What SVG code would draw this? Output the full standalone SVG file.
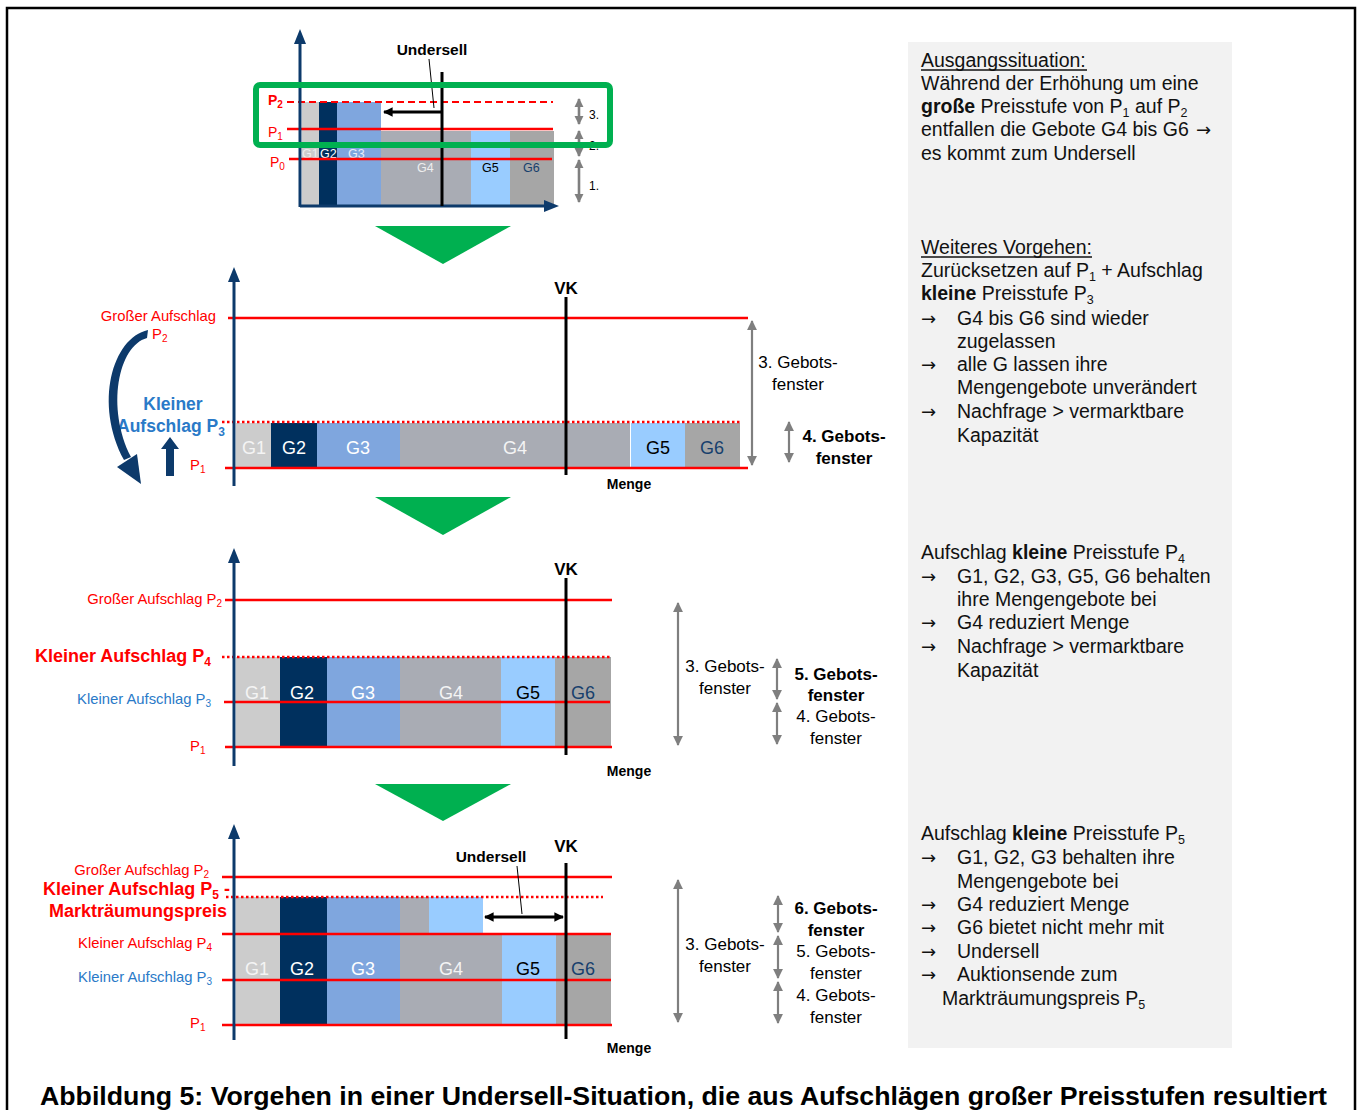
<svg xmlns="http://www.w3.org/2000/svg" width="1365" height="1110" viewBox="0 0 1365 1110">
<style>
text{font-family:"Liberation Sans",Arial,sans-serif}
.b{font-weight:bold}
.red{fill:#ff0000}
.blue{fill:#2a7ac8}
.rl{stroke:#ff0000;stroke-width:2.5;fill:none}
.dot{stroke:#ff0000;stroke-width:2.5;stroke-dasharray:2.5,2.5;fill:none}
.ax{stroke:#0d3a6b;stroke-width:3;fill:none}
.axh{fill:#0d3a6b}
.vk{stroke:#000;stroke-width:3}
.ga{stroke:#7f7f7f;stroke-width:2.2;fill:none;marker-start:url(#gh);marker-end:url(#gh)}
.ga2{stroke:#7f7f7f;stroke-width:2.6;fill:none;marker-start:url(#gh2);marker-end:url(#gh2)}
.g1{fill:#cccccc}.g2{fill:#00305e}.g3{fill:#7fa6de}.g4{fill:#a9acb4}.g5{fill:#99ccff}.g6{fill:#a6a6a6}
.gl{font-size:18px}
.tw{fill:#ffffff}.tk{fill:#000}.tn{fill:#17406d}
.side{font-size:17px;fill:#000}
.bx{font-size:19.5px;fill:#111}
.ar{font-family:"DejaVu Sans",sans-serif;font-size:18px;fill:#111}
.sl{font-size:14.8px}
.kl{font-size:18px;font-weight:bold}
.tri{fill:#00b050}
</style>
<defs>
<marker id="gh" viewBox="0 0 10 10" refX="9" refY="5" markerWidth="4.5" markerHeight="4.5" orient="auto-start-reverse" markerUnits="strokeWidth">
<path d="M0,0 L10,5 L0,10 z" fill="#7f7f7f"/>
</marker>
<marker id="gh2" viewBox="0 0 10 10" refX="9" refY="5" markerWidth="3.6" markerHeight="3.6" orient="auto-start-reverse" markerUnits="strokeWidth">
<path d="M0,0 L10,5 L0,10 z" fill="#7f7f7f"/>
</marker>
<marker id="kh" viewBox="0 0 10 10" refX="9" refY="5" markerWidth="3.2" markerHeight="3.2" orient="auto-start-reverse" markerUnits="strokeWidth">
<path d="M0,0 L10,5 L0,10 z" fill="#000"/>
</marker>
</defs>

<rect x="7" y="8" width="1348" height="1130" fill="none" stroke="#000" stroke-width="2.5"/>

<!-- explanation box -->
<g id="textbox">
<rect x="908" y="42" width="324" height="1006" fill="#f2f2f2"/>
<text class="bx" x="921" y="67">Ausgangssituation:</text>
<line x1="921" y1="70" x2="1087" y2="70" stroke="#111" stroke-width="1.3"/>
<text class="bx" x="921" y="90">Während der Erhöhung um eine</text>
<text class="bx" x="921" y="113"><tspan class="b">große</tspan> Preisstufe von P<tspan font-size="12.5" dy="4">1</tspan><tspan dy="-4"> auf P</tspan><tspan font-size="12.5" dy="4">2</tspan></text>
<text class="bx" x="921" y="136">entfallen die Gebote G4 bis G6</text>
<text class="ar" x="1196" y="136">→</text>
<text class="bx" x="921" y="160">es kommt zum Undersell</text>
<text class="bx" x="921" y="254">Weiteres Vorgehen:</text>
<line x1="921" y1="257" x2="1092" y2="257" stroke="#111" stroke-width="1.3"/>
<text class="bx" x="921" y="277">Zurücksetzen auf P<tspan font-size="12.5" dy="4">1</tspan><tspan dy="-4"> + Aufschlag</tspan></text>
<text class="bx" x="921" y="300"><tspan class="b">kleine</tspan> Preisstufe P<tspan font-size="12.5" dy="4">3</tspan></text>
<text class="ar" x="921" y="325">→</text><text class="bx" x="957" y="325">G4 bis G6 sind wieder</text>
<text class="bx" x="957" y="348">zugelassen</text>
<text class="ar" x="921" y="371">→</text><text class="bx" x="957" y="371">alle G lassen ihre</text>
<text class="bx" x="957" y="394">Mengengebote unverändert</text>
<text class="ar" x="921" y="418">→</text><text class="bx" x="957" y="418">Nachfrage &gt; vermarktbare</text>
<text class="bx" x="957" y="442">Kapazität</text>

<text class="bx" x="921" y="559">Aufschlag <tspan class="b">kleine</tspan> Preisstufe P<tspan font-size="12.5" dy="4">4</tspan></text>
<text class="ar" x="921" y="583">→</text><text class="bx" x="957" y="583">G1, G2, G3, G5, G6 behalten</text>
<text class="bx" x="957" y="606">ihre Mengengebote bei</text>
<text class="ar" x="921" y="629">→</text><text class="bx" x="957" y="629">G4 reduziert Menge</text>
<text class="ar" x="921" y="653">→</text><text class="bx" x="957" y="653">Nachfrage &gt; vermarktbare</text>
<text class="bx" x="957" y="677">Kapazität</text>

<text class="bx" x="921" y="840">Aufschlag <tspan class="b">kleine</tspan> Preisstufe P<tspan font-size="12.5" dy="4">5</tspan></text>
<text class="ar" x="921" y="864">→</text><text class="bx" x="957" y="864">G1, G2, G3 behalten ihre</text>
<text class="bx" x="957" y="888">Mengengebote bei</text>
<text class="ar" x="921" y="911">→</text><text class="bx" x="957" y="911">G4 reduziert Menge</text>
<text class="ar" x="921" y="934">→</text><text class="bx" x="957" y="934">G6 bietet nicht mehr mit</text>
<text class="ar" x="921" y="958">→</text><text class="bx" x="957" y="958">Undersell</text>
<text class="ar" x="921" y="981">→</text><text class="bx" x="957" y="981">Auktionsende zum</text>
<text class="bx" x="942" y="1005">Markträumungspreis P<tspan font-size="12.5" dy="4">5</tspan></text>
</g>

<!-- Panel 1: initial situation -->
<g id="panel1">
<rect class="g1" x="302" y="102" width="17" height="104"/>
<rect class="g2" x="319" y="102" width="18" height="104"/>
<rect class="g3" x="337" y="102" width="44" height="104"/>
<rect class="g4" x="381" y="131" width="90" height="75"/>
<rect class="g5" x="471" y="131" width="39" height="75"/>
<rect class="g6" x="510" y="131" width="44" height="75"/>
<text x="302" y="158" font-size="12.5" fill="#eeeeee">G1</text>
<text x="320" y="158" font-size="12.5" class="tw">G2</text>
<text x="348" y="158" font-size="12.5" fill="#e8eefa">G3</text>
<text x="417" y="172" font-size="12.5" fill="#eeeeee">G4</text>
<text x="482" y="172" font-size="12.5" class="tk">G5</text>
<text x="523" y="172" font-size="12.5" class="tn">G6</text>
<line x1="287" y1="102" x2="553" y2="102" stroke="#ff0000" stroke-width="2" stroke-dasharray="7,4"/>
<line class="rl" x1="287" y1="129" x2="553" y2="129"/>
<line class="rl" x1="289" y1="159" x2="552" y2="159"/>
<text x="268" y="105" font-size="14" class="red b">P<tspan font-size="10" dy="3">2</tspan></text>
<text x="268" y="137" font-size="14" class="red">P<tspan font-size="10" dy="3">1</tspan></text>
<text x="270" y="167" font-size="14" class="red">P<tspan font-size="10" dy="3">0</tspan></text>
<line class="ax" x1="300" y1="42" x2="300" y2="207"/>
<path class="axh" d="M300,29 L294,44 L306,44 z"/>
<line class="ax" x1="300" y1="206" x2="545" y2="206"/>
<path class="axh" d="M559,206 L544,200 L544,212 z"/>
<line class="vk" x1="442" y1="72" x2="442" y2="206"/>
<text x="432" y="55" font-size="15.5" class="b" text-anchor="middle">Undersell</text>
<line x1="429" y1="59" x2="434" y2="108" stroke="#000" stroke-width="1"/>
<line x1="384" y1="112" x2="441" y2="112" stroke="#000" stroke-width="3" marker-start="url(#kh)"/>
<line class="ga2" x1="579" y1="99" x2="579" y2="124"/>
<line class="ga2" x1="579" y1="131" x2="579" y2="156"/>
<line class="ga2" x1="579" y1="160" x2="579" y2="202"/>
<text x="589" y="119" font-size="12">3.</text>
<text x="589" y="150" font-size="12">2.</text>
<text x="589" y="190" font-size="12">1.</text>
<rect x="256" y="85" width="354" height="60" rx="4" fill="none" stroke="#00b050" stroke-width="6"/>
</g>

<g id="connectors">
<path class="tri" d="M375,226 L511,226 L443,264 z"/>
<path class="tri" d="M375,497 L511,497 L443,535 z"/>
<path class="tri" d="M375,784 L511,784 L443,821 z"/>
</g>

<!-- Panel 2 -->
<g id="panel2">
<rect class="g1" x="236" y="423" width="35" height="44"/>
<rect class="g2" x="271" y="423" width="46" height="44"/>
<rect class="g3" x="317" y="423" width="83" height="44"/>
<rect class="g4" x="400" y="423" width="230" height="44"/>
<rect class="g5" x="631" y="423" width="54" height="44"/>
<rect class="g6" x="685" y="423" width="55" height="44"/>
<text class="gl" x="254" y="454" text-anchor="middle" fill="#f4f4f4">G1</text>
<text class="gl tw" x="294" y="454" text-anchor="middle">G2</text>
<text class="gl tw" x="358" y="454" text-anchor="middle">G3</text>
<text class="gl" x="515" y="454" text-anchor="middle" fill="#f4f4f4">G4</text>
<text class="gl tk" x="658" y="454" text-anchor="middle">G5</text>
<text class="gl tn" x="712" y="454" text-anchor="middle">G6</text>
<line class="rl" x1="228" y1="318" x2="748" y2="318"/>
<line class="dot" x1="222" y1="422" x2="742" y2="422"/>
<line class="rl" x1="225" y1="468" x2="748" y2="468"/>
<line class="ax" x1="234" y1="280" x2="234" y2="486"/>
<path class="axh" d="M234,267 L228,282 L240,282 z"/>
<line class="vk" x1="566" y1="297" x2="566" y2="475"/>
<text x="566" y="294" font-size="17" class="b" text-anchor="middle">VK</text>
<text x="629" y="489" font-size="14" class="b" text-anchor="middle">Menge</text>
<line class="ga" x1="752" y1="321" x2="752" y2="465"/>
<text class="side" x="798" y="368" text-anchor="middle">3. Gebots-</text>
<text class="side" x="798" y="390" text-anchor="middle">fenster</text>
<line class="ga" x1="789" y1="422" x2="789" y2="462"/>
<text class="side b" x="844" y="442" text-anchor="middle">4. Gebots-</text>
<text class="side b" x="844" y="464" text-anchor="middle">fenster</text>
<text x="216" y="321" class="sl red" text-anchor="end">Großer Aufschlag</text>
<text x="152" y="339" class="sl red">P<tspan font-size="10" dy="3">2</tspan></text>
<text x="173" y="410" font-size="17.5" class="blue b" text-anchor="middle">Kleiner</text>
<text x="117" y="432" font-size="17.5" class="blue b">Aufschlag P<tspan font-size="12" dy="4">3</tspan></text>
<path d="M148,330 C112,338 94,404 124,460 L131,457 C106,408 118,346 147,338 z" fill="#0d3a6b"/>
<path d="M141,484 L117,467 L137,454 z" fill="#0d3a6b"/>
<path d="M166,476 L166,449 L161,449 L170,437 L179,449 L174,449 L174,476 z" fill="#0d3a6b"/>
<text x="190" y="470" class="sl red">P<tspan font-size="10" dy="3">1</tspan></text>
</g>

<!-- Panel 3 -->
<g id="panel3">
<rect class="g1" x="236" y="657" width="44" height="90"/>
<rect class="g2" x="280" y="657" width="47" height="90"/>
<rect class="g3" x="327" y="657" width="73" height="90"/>
<rect class="g4" x="400" y="657" width="101" height="90"/>
<rect class="g5" x="501" y="657" width="54" height="90"/>
<rect class="g6" x="555" y="657" width="56" height="90"/>
<text class="gl" x="257" y="699" text-anchor="middle" fill="#f4f4f4">G1</text>
<text class="gl tw" x="302" y="699" text-anchor="middle">G2</text>
<text class="gl tw" x="363" y="699" text-anchor="middle">G3</text>
<text class="gl" x="451" y="699" text-anchor="middle" fill="#f4f4f4">G4</text>
<text class="gl tk" x="528" y="699" text-anchor="middle">G5</text>
<text class="gl tn" x="583" y="699" text-anchor="middle">G6</text>
<line class="rl" x1="225" y1="600" x2="612" y2="600"/>
<line class="dot" x1="222" y1="657" x2="612" y2="657"/>
<line class="rl" x1="224" y1="702" x2="610" y2="702"/>
<line class="rl" x1="225" y1="747" x2="612" y2="747"/>
<line class="ax" x1="234" y1="561" x2="234" y2="766"/>
<path class="axh" d="M234,548 L228,563 L240,563 z"/>
<line class="vk" x1="566" y1="578" x2="566" y2="755"/>
<text x="566" y="575" font-size="17" class="b" text-anchor="middle">VK</text>
<text x="629" y="776" font-size="14" class="b" text-anchor="middle">Menge</text>
<text x="222" y="604" class="sl red" text-anchor="end">Großer Aufschlag P<tspan font-size="10" dy="3">2</tspan></text>
<text x="211" y="662" class="kl red" text-anchor="end">Kleiner Aufschlag P<tspan font-size="12" dy="4">4</tspan></text>
<text x="211" y="704" class="sl blue" text-anchor="end">Kleiner Aufschlag P<tspan font-size="10" dy="3">3</tspan></text>
<text x="190" y="751" class="sl red">P<tspan font-size="10" dy="3">1</tspan></text>
<line class="ga" x1="678" y1="603" x2="678" y2="745"/>
<text class="side" x="725" y="672" text-anchor="middle">3. Gebots-</text>
<text class="side" x="725" y="694" text-anchor="middle">fenster</text>
<line class="ga" x1="777" y1="659" x2="777" y2="699"/>
<line class="ga" x1="777" y1="703" x2="777" y2="744"/>
<text class="side b" x="836" y="680" text-anchor="middle">5. Gebots-</text>
<text class="side b" x="836" y="701" text-anchor="middle">fenster</text>
<text class="side" x="836" y="722" text-anchor="middle">4. Gebots-</text>
<text class="side" x="836" y="744" text-anchor="middle">fenster</text>
</g>

<!-- Panel 4 -->
<g id="panel4">
<rect class="g1" x="236" y="897" width="44" height="128"/>
<rect class="g2" x="280" y="897" width="47" height="128"/>
<rect class="g3" x="327" y="897" width="73" height="128"/>
<rect class="g4" x="400" y="897" width="29" height="37"/>
<rect class="g5" x="429" y="897" width="54" height="37"/>
<rect class="g4" x="400" y="934" width="102" height="91"/>
<rect class="g5" x="502" y="934" width="54" height="91"/>
<rect class="g6" x="556" y="934" width="55" height="91"/>
<text class="gl" x="257" y="975" text-anchor="middle" fill="#f4f4f4">G1</text>
<text class="gl tw" x="302" y="975" text-anchor="middle">G2</text>
<text class="gl tw" x="363" y="975" text-anchor="middle">G3</text>
<text class="gl" x="451" y="975" text-anchor="middle" fill="#f4f4f4">G4</text>
<text class="gl tk" x="528" y="975" text-anchor="middle">G5</text>
<text class="gl tn" x="583" y="975" text-anchor="middle">G6</text>
<line class="rl" x1="222" y1="877" x2="612" y2="877"/>
<line class="dot" x1="226" y1="897" x2="603" y2="897"/>
<line class="rl" x1="222" y1="934" x2="611" y2="934"/>
<line class="rl" x1="222" y1="980" x2="611" y2="980"/>
<line class="rl" x1="222" y1="1025" x2="612" y2="1025"/>
<line class="ax" x1="234" y1="837" x2="234" y2="1040"/>
<path class="axh" d="M234,824 L228,839 L240,839 z"/>
<line class="vk" x1="566" y1="863" x2="566" y2="1039"/>
<text x="566" y="852" font-size="17" class="b" text-anchor="middle">VK</text>
<text x="491" y="862" font-size="15.5" class="b" text-anchor="middle">Undersell</text>
<line x1="517" y1="866" x2="522" y2="914" stroke="#000" stroke-width="1"/>
<line x1="485" y1="917" x2="563" y2="917" stroke="#000" stroke-width="3" marker-start="url(#kh)" marker-end="url(#kh)"/>
<text x="629" y="1053" font-size="14" class="b" text-anchor="middle">Menge</text>
<text x="209" y="875" class="sl red" text-anchor="end">Großer Aufschlag P<tspan font-size="10" dy="3">2</tspan></text>
<text x="230" y="895" class="kl red" text-anchor="end">Kleiner Aufschlag P<tspan font-size="12" dy="4">5</tspan><tspan dy="-4"> -</tspan></text>
<text x="227" y="917" class="kl red" text-anchor="end">Markträumungspreis</text>
<text x="212" y="948" class="sl red" text-anchor="end">Kleiner Aufschlag P<tspan font-size="10" dy="3">4</tspan></text>
<text x="212" y="982" class="sl blue" text-anchor="end">Kleiner Aufschlag P<tspan font-size="10" dy="3">3</tspan></text>
<text x="190" y="1028" class="sl red">P<tspan font-size="10" dy="3">1</tspan></text>
<line class="ga" x1="678" y1="880" x2="678" y2="1022"/>
<text class="side" x="725" y="950" text-anchor="middle">3. Gebots-</text>
<text class="side" x="725" y="972" text-anchor="middle">fenster</text>
<line class="ga" x1="778" y1="896" x2="778" y2="932"/>
<line class="ga" x1="778" y1="936" x2="778" y2="978"/>
<line class="ga" x1="778" y1="982" x2="778" y2="1023"/>
<text class="side b" x="836" y="914" text-anchor="middle">6. Gebots-</text>
<text class="side b" x="836" y="936" text-anchor="middle">fenster</text>
<text class="side" x="836" y="957" text-anchor="middle">5. Gebots-</text>
<text class="side" x="836" y="979" text-anchor="middle">fenster</text>
<text class="side" x="836" y="1001" text-anchor="middle">4. Gebots-</text>
<text class="side" x="836" y="1023" text-anchor="middle">fenster</text>
</g>

<text x="40" y="1105" font-size="26" class="b" textLength="1287" lengthAdjust="spacingAndGlyphs">Abbildung 5: Vorgehen in einer Undersell-Situation, die aus Aufschlägen großer Preisstufen resultiert</text>
</svg>
